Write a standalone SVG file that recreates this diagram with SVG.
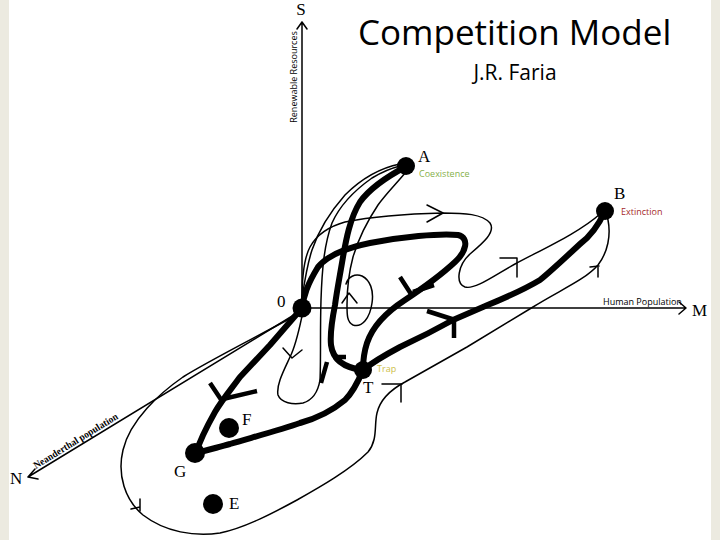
<svg xmlns="http://www.w3.org/2000/svg" width="720" height="540" viewBox="0 0 720 540">
<defs>
<style>
.thin{fill:none;stroke:#000;stroke-width:1.5;stroke-linecap:round;stroke-linejoin:round}
.thick{fill:none;stroke:#000;stroke-width:6;stroke-linecap:round;stroke-linejoin:round}
.mark{fill:none;stroke:#000;stroke-width:4.5;stroke-linecap:butt}
.dot{fill:#000}
.lbl{font-family:"Liberation Serif","Times New Roman",serif;font-size:17px;fill:#000}
.small{font-family:"Open Sans","Liberation Sans",sans-serif;font-size:9px}
</style>
</defs>
<rect x="0" y="0" width="720" height="540" fill="#fff"/>
<rect x="0" y="0" width="9" height="540" fill="#ECEAE0"/>
<rect x="711" y="0" width="9" height="540" fill="#ECEAE0"/>

<g id="title">
<text x="358" y="45" font-family="Open Sans, Liberation Sans, sans-serif" font-size="35" fill="#000">Competition Model</text>
<text x="515" y="80" text-anchor="middle" font-family="Open Sans, Liberation Sans, sans-serif" font-size="21" fill="#000">J.R. Faria</text>
</g>

<g id="axes">
<path class="thin" d="M302 308 L302 22 M297 29 L302 22 L307 29"/>
<text class="lbl" x="301" y="15" text-anchor="middle" font-size="16">S</text>
<text class="small" transform="translate(297,77) rotate(-90)" text-anchor="middle" font-size="8.5">Renewable Resources</text>
<path class="thin" d="M302 308 L686 308 M679 302 L686 308 L679 314"/>
<text class="lbl" x="692" y="316" font-size="17">M</text>
<text class="small" x="603" y="305" font-size="8.5">Human Population</text>
<path class="thin" d="M302 310 L28 477 M35 469 L28 477 L38 479"/>
<text class="lbl" x="10" y="484" font-size="17">N</text>
<text transform="translate(36,469) rotate(-31.5)" font-family="Liberation Serif, Times New Roman, serif" font-size="10" font-weight="bold" textLength="97" lengthAdjust="spacingAndGlyphs">Neanderthal population</text>
</g>

<g id="connectors">
<path class="thin" d="M300 313 C270 330 210 360 183 377 C160 393 130 420 123 450 C117 475 125 500 143 515 C165 532 195 537 220 533 C245 528 275 512 297 500 C320 487 350 470 368 452 C378 440 374 425 377 413 C380 400 390 390 405 382 L467 347 L533 307 C560 290 585 280 598 265 C608 252 611 235 608 220 L605 211"/>
<path class="thin" d="M131 509 L140 507 M140 499 L140 511"/>
<path class="thin" d="M382 384 L402 384 M401 384 L401 402"/>
<path class="thin" d="M590 267 L599 266 M598 266 L598 277"/>

<path class="thin" d="M302 300 C302 280 303 260 310 247 C316 236 327 227 345 222 C370 217 400 214 443 213 C465 213 482 214 490 223 C496 232 483 243 470 254 C458 265 455 283 465 287 C475 290 495 275 515 264 C545 248 580 232 600 214"/>
<path class="thin" d="M427 205 L443 213 L427 222"/>
<path class="thin" d="M500 258 L517 258 M517 258 L517 277"/>

<path class="thin" d="M302 298 C304 285 307 265 312 250 C318 232 330 212 345 195 C360 180 380 168 400 164"/>

<path class="thin" d="M302 316 C299 330 296 345 290 357 C284 370 276 385 278 395 C281 403 293 405 303 403 C313 400 318 392 320 380 C321 360 320 330 321 300 C322 270 324 245 332 223 C340 205 355 190 372 178 C382 172 392 168 400 166"/>
<path class="thin" d="M283 348 L292 358 L302 350"/>

<path class="thin" d="M406 172 C395 185 385 195 378 205 C368 220 358 240 353 257 C349 272 347 290 347 305 C347 315 347 322 353 325 C362 328 370 318 372 303 C374 290 370 280 362 276 C355 273 348 277 346 284"/>
<path class="thin" d="M342 303 L349 293 L357 303"/>

<path class="thick" d="M407 166 C390 175 370 188 360 202 C350 218 346 240 343 257 C340 275 337 290 335 305 C332 320 330 335 331 345 C333 360 345 368 363 370"/>
<path class="mark" d="M333 357 L346 357 M327 362 L321 383"/>

<path class="thick" d="M302 308 C304 295 307 285 318 267 C328 255 345 248 370 243 C400 237 440 233 458 235 C470 238 466 252 455 262 C440 276 420 290 405 300 C385 313 372 328 367 343 C364 352 363 362 363 370"/>
<path class="mark" d="M400 277 L411 294 M413 292 L434 285"/>

<path class="thick" d="M605 211 C600 222 592 235 580 244 C565 258 550 272 540 280 C520 292 500 300 483 307 L453 320 C435 330 415 340 400 347 C385 355 373 362 363 370"/>
<path class="mark" d="M427 311 L455 320 M454 319 L454 338"/>

<path class="thick" d="M363 370 C358 382 353 392 345 400 C333 410 318 418 300 423 C280 430 250 438 230 444 C215 448 205 451 196 453"/>

<path class="thick" d="M302 308 L270 345 L240 377 C232 388 222 400 215 412 C206 428 200 440 196 453"/>
<path class="mark" d="M210 383 L222 401 M223 399 L257 391"/>
</g>

<g id="node-A">
<circle class="dot" cx="406" cy="166" r="9"/>
<text class="lbl" x="418" y="162" font-size="16">A</text>
<text class="small" x="419" y="177" font-size="9" fill="#86B04A">Coexistence</text>
</g>
<g id="node-B">
<circle class="dot" cx="605" cy="211" r="9"/>
<text class="lbl" x="614" y="199" font-size="16">B</text>
<text class="small" x="621" y="215" font-size="8.5" fill="#A52A2A">Extinction</text>
</g>
<g id="node-0">
<circle class="dot" cx="302" cy="308" r="9.5"/>
<text class="lbl" x="277" y="307" font-size="14">0</text>
</g>
<g id="node-T">
<circle class="dot" cx="363" cy="370" r="9"/>
<text class="lbl" x="363" y="393" font-size="15">T</text>
<text class="small" x="377" y="372" font-size="8.5" fill="#CDBE48">Trap</text>
</g>
<g id="node-F">
<circle class="dot" cx="229" cy="428" r="10"/>
<text class="lbl" x="242" y="425" font-size="16">F</text>
</g>
<g id="node-G">
<circle class="dot" cx="195" cy="453" r="10"/>
<text class="lbl" x="174" y="477" font-size="16">G</text>
</g>
<g id="node-E">
<circle class="dot" cx="213" cy="504" r="10"/>
<text class="lbl" x="229" y="509" font-size="16">E</text>
</g>
</svg>
